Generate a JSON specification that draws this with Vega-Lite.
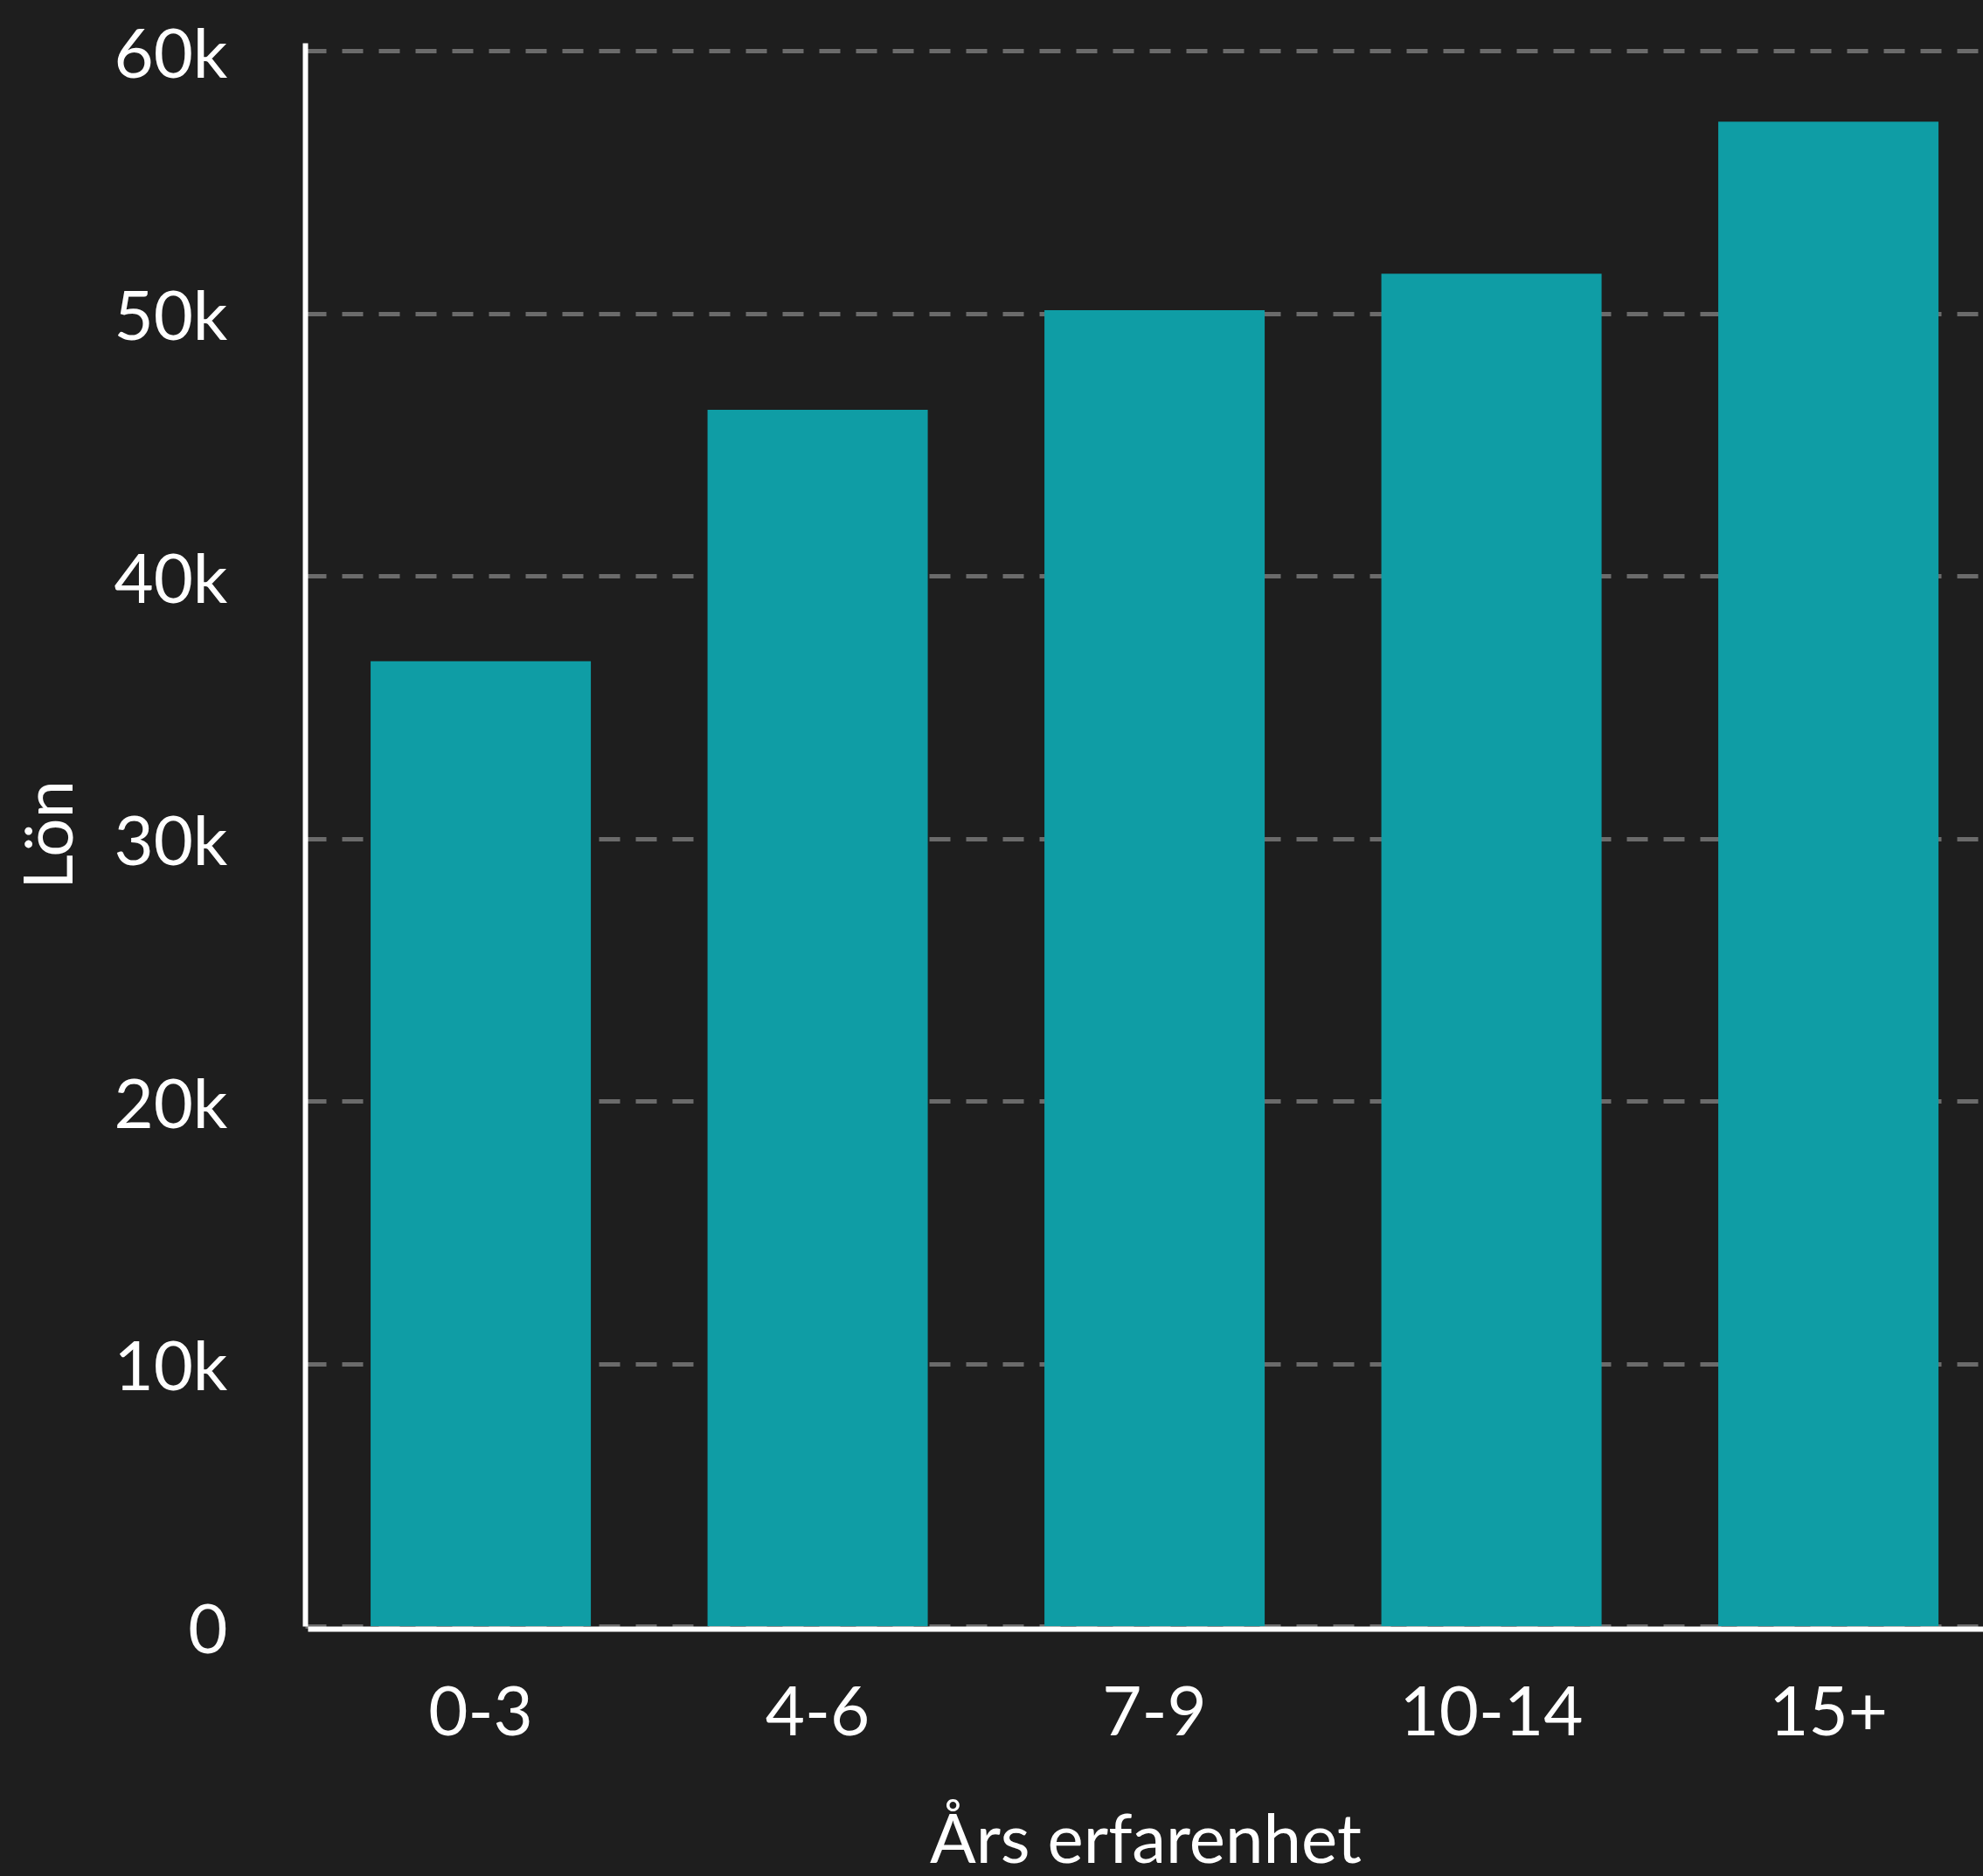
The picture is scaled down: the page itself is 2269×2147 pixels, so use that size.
{
  "$schema": "https://vega.github.io/schema/vega-lite/v6.json",
  "autosize": {"type": "none"},
  "width": 1917,
  "height": 1812,
  "padding": {"left": 352, "top": 49, "right": 0, "bottom": 286},
  "background": "#1e1e1e",
  "data": {
    "values": [
      {"erfarenhet": "0-3", "lon": 36750},
      {"erfarenhet": "4-6", "lon": 46320},
      {"erfarenhet": "7-9", "lon": 50120},
      {"erfarenhet": "10-14", "lon": 51510},
      {"erfarenhet": "15+", "lon": 57300}
    ]
  },
  "mark": {"type": "bar", "color": "#0f9da5"},
  "encoding": {
    "x": {
      "field": "erfarenhet",
      "type": "nominal",
      "sort": null,
      "title": "Års erfarenhet",
      "scale": {"paddingInner": 0.3463, "paddingOuter": 0.1595, "align": 0.586},
      "axis": {"labelAngle": 0, "labelPadding": 59, "titlePadding": 68, "grid": false, "labelLimit": 0}
    },
    "y": {
      "field": "lon",
      "type": "quantitative",
      "title": "Lön",
      "scale": {"domain": [0, 60300], "nice": false},
      "axis": {
        "values": [0, 10000, 20000, 30000, 40000, 50000, 60000],
        "labelExpr": "datum.value == 0 ? '0' : format(datum.value / 1000, 'd') + 'k'",
        "labelPadding": 89,
        "labelOffset": 7,
        "titlePadding": 51,
        "grid": true,
        "gridColor": "#6b6b6b",
        "gridWidth": 5,
        "gridDash": [24, 18]
      }
    }
  },
  "config": {
    "view": {"stroke": null},
    "axis": {
      "offset": 3,
      "domainColor": "#ffffff",
      "domainWidth": 6,
      "ticks": false,
      "tickSize": 0,
      "labelFont": "Lato",
      "labelFontSize": 78,
      "labelColor": "#ffffff",
      "titleFont": "Lato",
      "titleFontSize": 78,
      "titleFontWeight": "normal",
      "titleColor": "#ffffff"
    }
  }
}
